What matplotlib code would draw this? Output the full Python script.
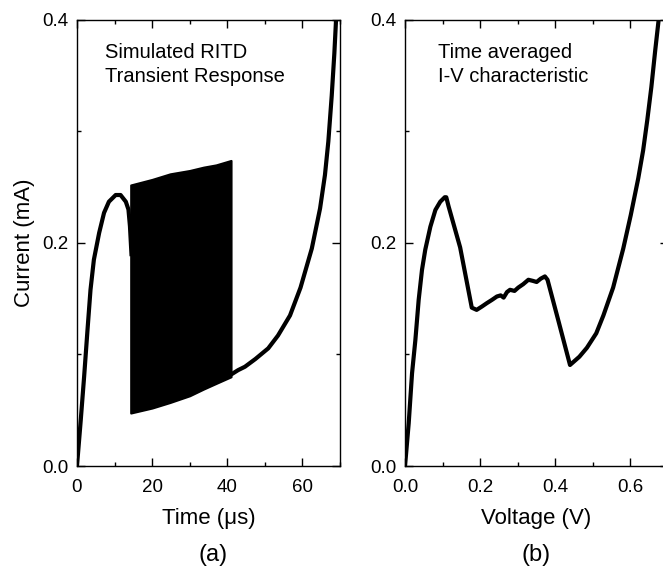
import numpy as np
import matplotlib.pyplot as plt
from matplotlib.ticker import MultipleLocator

plt.rcParams["font.family"] = ["Liberation Sans", "DejaVu Sans"]

# (a) transient response, time in us, current in mA
t_rise = [0, 1.0, 1.9, 2.8, 3.6, 4.5, 5.9, 7.2, 8.5, 10.3, 11.6, 13.0, 13.7, 14.1, 14.5]
i_rise = [0, 0.041, 0.080, 0.122, 0.158, 0.185, 0.209, 0.227, 0.237, 0.243, 0.243,
          0.237, 0.230, 0.215, 0.190]

# envelope of the oscillating band
t_band = [14.3, 20.0, 24.8, 30.0, 33.7, 37.0, 41.0]
band_top = [0.252, 0.257, 0.262, 0.265, 0.268, 0.270, 0.274]
band_bot = [0.0475, 0.052, 0.057, 0.063, 0.069, 0.074, 0.080]

t_post = [41.0, 42.9, 44.7, 47.5, 50.9, 53.5, 56.7, 59.5, 62.5, 64.7, 66.0, 66.9,
          67.8, 68.5, 69.1]
i_post = [0.082, 0.086, 0.089, 0.096, 0.1055, 0.117, 0.135, 0.160, 0.195, 0.231,
          0.261, 0.291, 0.332, 0.370, 0.410]

# (b) time averaged I-V
volt = [0, 0.0098, 0.0187, 0.0276, 0.0364, 0.0453, 0.054, 0.0676, 0.081, 0.094,
        0.106, 0.110, 0.116, 0.147, 0.178, 0.191, 0.205, 0.218, 0.232, 0.245, 0.255,
        0.263, 0.272, 0.280, 0.292, 0.302, 0.315, 0.329, 0.341, 0.351, 0.362, 0.373,
        0.380, 0.410, 0.440, 0.465, 0.485, 0.510, 0.529, 0.555, 0.582, 0.602,
        0.622, 0.635, 0.646, 0.657, 0.667, 0.678, 0.688]
curr = [0, 0.0383, 0.0831, 0.113, 0.149, 0.176, 0.194, 0.2146, 0.2296, 0.237,
        0.241, 0.241, 0.233, 0.196, 0.142, 0.140, 0.143, 0.146, 0.149, 0.152, 0.153,
        0.151, 0.156, 0.158, 0.157, 0.160, 0.163, 0.167, 0.166, 0.165, 0.168, 0.170,
        0.167, 0.129, 0.0906, 0.098, 0.106, 0.119, 0.135, 0.160, 0.195, 0.225,
        0.258, 0.283, 0.310, 0.340, 0.372, 0.405, 0.440]

fig = plt.figure(figsize=(6.63, 5.69), dpi=100)
ax0 = fig.add_axes([0.1161, 0.181, 0.3967, 0.784])
ax1 = fig.add_axes([0.6109, 0.181, 0.3959, 0.784])

lw = 3.0
ax0.plot(t_rise, i_rise, c="k", lw=lw, solid_joinstyle="round")
ax0.fill_between(t_band, band_bot, band_top, color="k", lw=1.5, edgecolor="k")
ax0.plot(t_post, i_post, c="k", lw=lw, solid_joinstyle="round")
ax1.plot(volt, curr, c="k", lw=lw, solid_joinstyle="round")

ax0.set_xlim(0, 70)
ax1.set_xlim(0, 0.7)
for ax in (ax0, ax1):
    ax.set_ylim(0, 0.4)
    ax.yaxis.set_major_locator(MultipleLocator(0.2))
    ax.yaxis.set_minor_locator(MultipleLocator(0.1))
    ax.tick_params(which="both", direction="in", top=True, right=True,
                   labelsize=13.5, width=1)
    ax.tick_params(which="major", length=5.5)
    ax.tick_params(which="minor", length=3)
    ax.tick_params(axis="y", pad=6)
    ax.tick_params(axis="x", pad=9)
    for s in ax.spines.values():
        s.set_linewidth(1.0)

ax0.xaxis.set_major_locator(MultipleLocator(20))
ax0.xaxis.set_minor_locator(MultipleLocator(10))
ax1.xaxis.set_major_locator(MultipleLocator(0.2))
ax1.xaxis.set_minor_locator(MultipleLocator(0.1))
ax0.yaxis.set_major_formatter(lambda v, p: f"{v:.1f}")
ax1.yaxis.set_major_formatter(lambda v, p: f"{v:.1f}")
ax1.xaxis.set_major_formatter(lambda v, p: f"{v:.1f}")

ax0.set_xlabel("Time (\u03bcs)", fontsize=16, labelpad=9)
ax0.set_ylabel("Current (mA)", fontsize=16, labelpad=5)
ax1.set_xlabel("Voltage (V)", fontsize=16, labelpad=9)

ax0.text(0.106, 0.948, "Simulated RITD\nTransient Response", transform=ax0.transAxes,
         fontsize=14.5, va="top", ha="left", linespacing=1.35)
ax1.text(0.126, 0.948, "Time averaged\nI-V characteristic", transform=ax1.transAxes,
         fontsize=14.5, va="top", ha="left", linespacing=1.35)

fig.text(213 / 663, 1 - 555 / 569, "(a)", fontsize=17, ha="center", va="center")
fig.text(536 / 663, 1 - 555 / 569, "(b)", fontsize=17, ha="center", va="center")

fig.savefig("out.png", dpi=100)
